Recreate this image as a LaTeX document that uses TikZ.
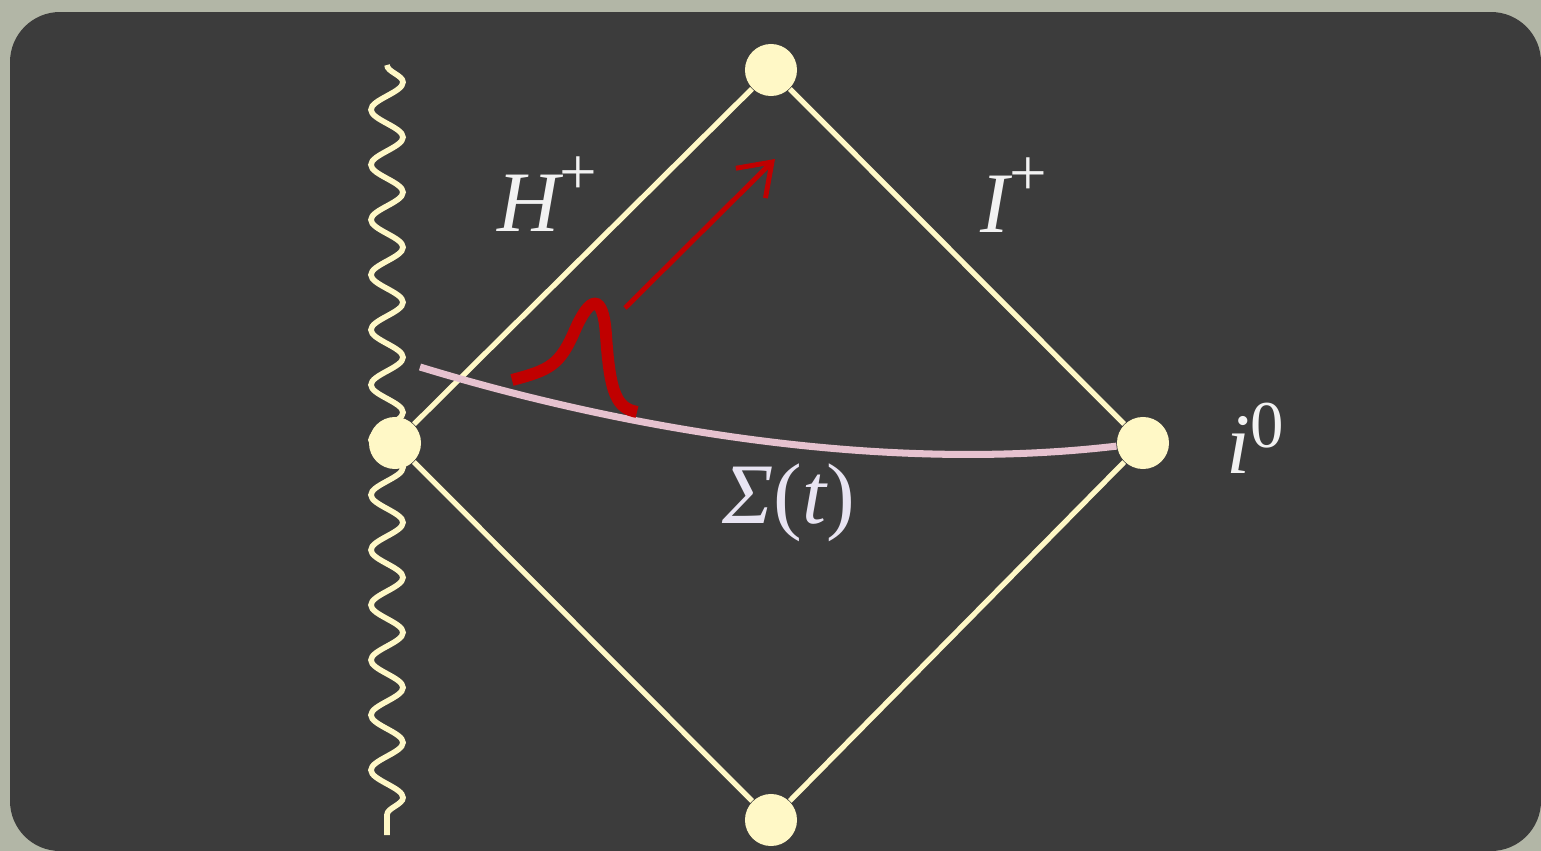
\documentclass[tikz,border=0pt]{standalone}
\usepackage{fontspec}
\setmainfont{Liberation Serif}
\usetikzlibrary{arrows.meta,decorations.pathmorphing}
\definecolor{slate}{HTML}{3C3C3C}
\definecolor{frame}{HTML}{B2B6A6}
\definecolor{cream}{HTML}{FFF8C6}
\definecolor{rose}{HTML}{E6C2CF}
\definecolor{pulsered}{HTML}{C00000}
\definecolor{lilac}{HTML}{E8E4F2}
\newcommand{\upindex}[2][0.42em]{\raisebox{#1}{\fontsize{19}{19}\selectfont\upshape #2}}

\begin{document}
\begin{tikzpicture}[
    x=0.01cm, y=-0.01cm,
    vertex/.style={circle, fill=cream, minimum size=0.52cm, inner sep=0pt},
    edge/.style={draw=cream, line width=1.5pt},
    label/.style={text=white!95!black, font=\fontsize{24.5}{29}\selectfont\itshape, inner sep=0pt},
    wave/.style={pulsered, line width=1.4pt, -{Straight Barb[length=0.3cm, width=0.42cm, line width=1.4pt]}}
]

% background and panel
\useasboundingbox (0,0) rectangle (1541,851);
\fill[frame] (0,0) rectangle (1541,851);
\fill[slate, rounded corners=0.5cm] (10,12) rectangle (1541,851);

% singularity
\coordinate (singtop) at (387,65);
\coordinate (singbot) at (387,835);
\draw[cream, line width=1.6pt, decorate,
    decoration={snake, segment length=0.55cm, amplitude=0.16cm}] (singtop) -- (singbot);

% corners of the diagram
\node[vertex] (top) at (771,70) {};
\node[vertex] (left) at (395,443) {};
\node[vertex] (right) at (1143,443) {};
\node[vertex] (bottom) at (771,820) {};

\draw[edge] (left) -- (top);
\draw[edge] (top) -- (right);
\draw[edge] (right) -- (bottom);
\draw[edge] (bottom) -- (left);

% Cauchy slice
\coordinate (slicestart) at (420,367);
\draw[rose, line width=2pt] (slicestart) .. controls (620,428) and (880,474) .. (right);

% wave packet
\draw[pulsered, line width=3.4pt]
    (512,380) .. controls (550,370) and (560,365) .. (575,330)
    .. controls (590,296) and (603,292) .. (606,335)
    .. controls (610,395) and (617,408) .. (637,412);

\coordinate (wavefrom) at (625,308);
\coordinate (waveto) at (775,159);
\draw[wave] (wavefrom) -- (waveto);

% labels
\node[label, anchor=base west] (hplus) at (497,231) {H\upindex{+}};
\node[label, anchor=base west] (iplus) at (980,232) {I\upindex{+}};
\node[label, anchor=base west] (izero) at (1226,473) {i\upindex[0.3em]{0}};
\node[label, anchor=base west, text=lilac] (sigma) at (722,523) {Σ{\upshape (}t{\upshape )}};

\end{tikzpicture}
\end{document}
